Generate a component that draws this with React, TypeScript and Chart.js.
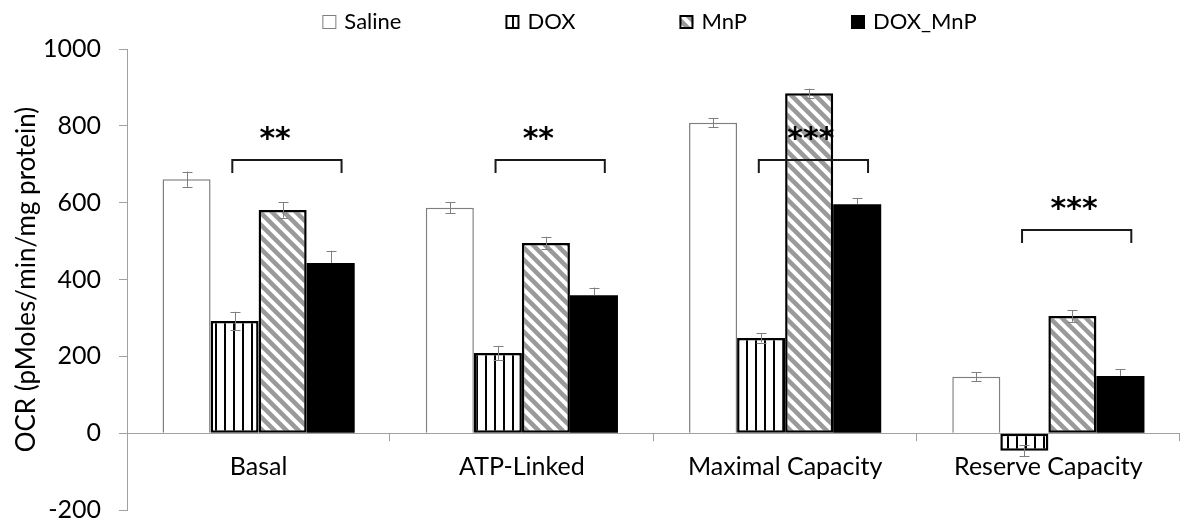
import React, { useEffect, useRef } from 'react';
import { Chart, registerables } from 'chart.js';

Chart.register(...registerables);

const categories = ['Basal', 'ATP-Linked', 'Maximal Capacity', 'Reserve Capacity'];
const seriesNames = ['Saline', 'DOX', 'MnP', 'DOX_MnP'];
const salineValues = [661, 587, 808, 147];
const salineErrors = [20, 14, 12, 11];
const doxValues = [292, 209, 248, -46];
const doxErrors = [24, 18, 12, 14];
const mnpValues = [581, 495, 885, 305];
const mnpErrors = [20, 16, 12, 15];
const doxMnpValues = [443, 359, 596, 149];
const doxMnpErrors = [32, 20, 16, 18];
const yTicks = [-200, 0, 200, 400, 600, 800, 1000];
const yTitle = 'OCR (pMoles/min/mg protein)';
const bracketLevels = [711, 711, 712, 530];
const bracketLabels = ['**', '**', '***', '***'];

const FONT = 'Lato, "Liberation Sans", sans-serif';

function makeStripePattern(ctx: CanvasRenderingContext2D) {
  const c = document.createElement('canvas');
  c.width = 9;
  c.height = 4;
  const g = c.getContext('2d')!;
  g.fillStyle = '#ffffff';
  g.fillRect(0, 0, 9, 4);
  g.fillStyle = '#000000';
  g.fillRect(0, 0, 2, 4);
  return ctx.createPattern(c, 'repeat')!;
}

function makeDiagPattern(ctx: CanvasRenderingContext2D) {
  const s = 12;
  const c = document.createElement('canvas');
  c.width = s;
  c.height = s;
  const g = c.getContext('2d')!;
  g.fillStyle = '#ffffff';
  g.fillRect(0, 0, s, s);
  g.strokeStyle = '#9a9a9a';
  g.lineWidth = 4.5;
  for (const off of [-s, 0, s]) {
    g.beginPath();
    g.moveTo(off - 3, -3);
    g.lineTo(off + s + 3, s + 3);
    g.stroke();
  }
  return ctx.createPattern(c, 'repeat')!;
}

export default function App() {
  const ref = useRef<HTMLCanvasElement | null>(null);

  useEffect(() => {
    const canvas = ref.current!;
    const ctx = canvas.getContext('2d')!;
    const stripe = makeStripePattern(ctx);
    const diag = makeDiagPattern(ctx);
    const errors = [salineErrors, doxErrors, mnpErrors, doxMnpErrors];

    const legendStyles = [
      { fill: '#ffffff', stroke: '#7f7f7f', lw: 1 },
      { fill: stripe, stroke: '#000000', lw: 2 },
      { fill: diag, stroke: '#000000', lw: 2 },
      { fill: '#000000', stroke: '#000000', lw: 0 },
    ];

    const annotate = {
      id: 'annotate',
      afterDatasetsDraw(chart: any) {
        const c = chart.ctx as CanvasRenderingContext2D;
        const x = chart.scales.x;
        const y = chart.scales.y;
        const area = chart.chartArea;
        const catW = (area.right - area.left) / categories.length;
        const zeroY = y.getPixelForValue(0);

        // error bars
        c.save();
        c.strokeStyle = '#7f7f7f';
        c.lineWidth = 1;
        chart.data.datasets.forEach((ds: any, di: number) => {
          const meta = chart.getDatasetMeta(di);
          const outwardOnly = ds.backgroundColor === '#000000';
          meta.data.forEach((el: any, i: number) => {
            const v = ds.data[i];
            const e = errors[di][i];
            const px = Math.round(el.x) + 0.5;
            let top = y.getPixelForValue(v + e);
            let bot = y.getPixelForValue(v - e);
            if (outwardOnly) {
              if (v >= 0) bot = y.getPixelForValue(v);
              else top = y.getPixelForValue(v);
            }
            c.beginPath();
            c.moveTo(px, top);
            c.lineTo(px, bot);
            if (!outwardOnly || v >= 0) {
              c.moveTo(px - 5, Math.round(top) + 0.5);
              c.lineTo(px + 5, Math.round(top) + 0.5);
            }
            if (!outwardOnly || v < 0) {
              c.moveTo(px - 5, Math.round(bot) + 0.5);
              c.lineTo(px + 5, Math.round(bot) + 0.5);
            }
            c.stroke();
          });
        });
        c.restore();

        // x tick marks at category boundaries
        c.save();
        c.strokeStyle = '#a0a0a0';
        c.lineWidth = 1;
        for (let i = 1; i <= categories.length; i++) {
          const bx = Math.round(area.left + i * catW) - 0.5;
          c.beginPath();
          c.moveTo(bx, zeroY);
          c.lineTo(bx, zeroY + 8);
          c.stroke();
        }
        c.restore();

        // category labels
        c.save();
        c.fillStyle = '#000000';
        c.font = `25px ${FONT}`;
        c.textAlign = 'center';
        c.textBaseline = 'middle';
        categories.forEach((label, i) => {
          c.fillText(label, x.getPixelForValue(i), zeroY + 34);
        });
        c.restore();

        // significance brackets
        c.save();
        c.strokeStyle = '#1a1a1a';
        c.lineWidth = 2;
        c.fillStyle = '#000000';
        c.font = `bold 30px "DejaVu Sans", sans-serif`;
        c.textAlign = 'center';
        c.textBaseline = 'alphabetic';
        bracketLevels.forEach((lvl, i) => {
          const cx = x.getPixelForValue(i);
          const x1 = cx - 0.1 * catW;
          const x2 = cx + 0.315 * catW;
          const by = Math.round(y.getPixelForValue(lvl));
          c.beginPath();
          c.moveTo(x1, by + 13);
          c.lineTo(x1, by);
          c.lineTo(x2, by);
          c.lineTo(x2, by + 13);
          c.stroke();
          const shift = i < 2 ? -0.045 : -0.01;
          c.fillText(bracketLabels[i], (x1 + x2) / 2 + shift * catW, by - 12);
        });
        c.restore();
      },
      afterDraw(chart: any) {
        const c = chart.ctx as CanvasRenderingContext2D;
        const area = chart.chartArea;
        c.save();
        c.font = `22px ${FONT}`;
        const box = 14;
        const gapText = 8;
        const gapItem = 104;
        const widths = seriesNames.map((n) => box + gapText + c.measureText(n).width);
        const total = widths.reduce((a, b) => a + b, 0) + gapItem * (seriesNames.length - 1);
        let lx = (area.left + area.right) / 2 - 4 - total / 2;
        const baseY = 21;
        seriesNames.forEach((name, i) => {
          const st = legendStyles[i];
          c.fillStyle = st.fill as any;
          c.fillRect(lx, baseY - box, box, box);
          if (st.lw > 0) {
            c.strokeStyle = st.stroke;
            c.lineWidth = st.lw;
            c.strokeRect(lx + st.lw / 2, baseY - box + st.lw / 2, box - st.lw, box - st.lw);
          }
          c.fillStyle = '#000000';
          c.textBaseline = 'alphabetic';
          c.textAlign = 'left';
          c.fillText(name, lx + box + gapText, baseY);
          lx += widths[i] + gapItem;
        });
        c.restore();
      },
    };

    const chart = new Chart(canvas, {
      type: 'bar',
      data: {
        labels: categories,
        datasets: [
          {
            label: seriesNames[0],
            data: salineValues,
            backgroundColor: '#ffffff',
            borderColor: '#7f7f7f',
            borderWidth: 1.5,
            borderSkipped: 'start',
          },
          {
            label: seriesNames[1],
            data: doxValues,
            backgroundColor: stripe as any,
            borderColor: '#000000',
            borderWidth: 2.5,
            borderSkipped: false,
          },
          {
            label: seriesNames[2],
            data: mnpValues,
            backgroundColor: diag as any,
            borderColor: '#000000',
            borderWidth: 2.5,
            borderSkipped: false,
          },
          {
            label: seriesNames[3],
            data: doxMnpValues,
            backgroundColor: '#000000',
            borderColor: '#000000',
            borderWidth: 0,
          },
        ],
      },
      options: {
        responsive: false,
        animation: false,
        events: [],
        layout: { padding: { top: 41, bottom: 9, left: 0, right: 3 } },
        datasets: { bar: { categoryPercentage: 0.73, barPercentage: 1 } },
        plugins: {
          legend: { display: false },
          tooltip: { enabled: false },
        },
        scales: {
          x: { display: false, offset: true },
          y: {
            min: -200,
            max: 1000,
            afterBuildTicks: (s: any) => {
              s.ticks = yTicks.map((v) => ({ value: v }));
            },
            afterFit: (s: any) => {
              s.width = 119;
              s.paddingTop = 0;
              s.paddingBottom = 0;
            },
            border: { display: true, color: '#a0a0a0', width: 1 },
            grid: {
              drawOnChartArea: true,
              color: (c: any) => (c.tick && c.tick.value === 0 ? '#a0a0a0' : 'rgba(0,0,0,0)'),
              tickColor: '#a0a0a0',
              tickLength: 8,
              lineWidth: 1,
            },
            ticks: {
              color: '#000000',
              padding: 18,
              font: { family: FONT, size: 25, lineHeight: 1 },
              callback: (v: any) => String(v),
            },
            title: {
              display: true,
              text: yTitle,
              color: '#000000',
              font: { family: FONT, size: 26, lineHeight: 1.1 },
              padding: { top: 4, bottom: 0 },
            },
          },
        },
      },
      plugins: [annotate],
    });

    return () => chart.destroy();
  }, []);

  return <canvas ref={ref} width={1175} height={511} style={{ display: 'block' }} />;
}
